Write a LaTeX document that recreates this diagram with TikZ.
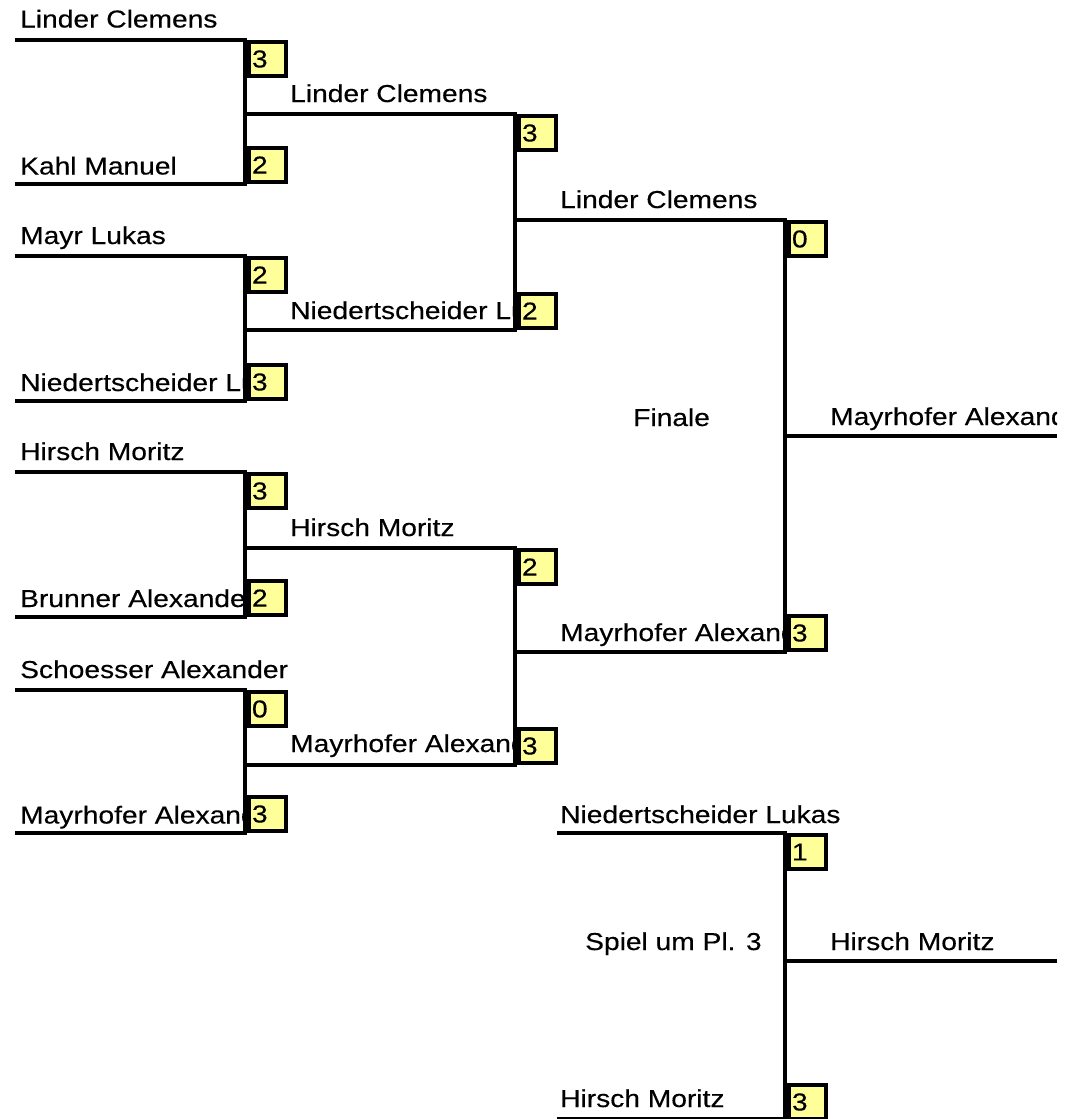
\documentclass[tikz,border=0pt]{standalone}
\usepackage{fontspec}
\setmainfont[FakeStretch=1.15,FakeBold=0.3]{Liberation Sans}
\definecolor{scorefill}{HTML}{FFFF99}
\tikzset{
  bline/.style={line width=4.5pt},
  vline/.style={line width=4.5pt, line cap=rect},
  pname/.style={anchor=base west, inner sep=0pt, font=\fontsize{24.5}{29}\selectfont},
  score/.style={draw, line width=4pt, fill=scorefill, inner xsep=3pt, inner ysep=0pt,
    text width=31pt, align=left, minimum height=34pt, font=\fontsize{24.5}{29}\selectfont},
  sctop/.style={score, anchor=north west},
  scbot/.style={score, anchor=south west},
}
% id, x0, x1, y, textx, baseline offset, clip x, text
\newcommand{\brentry}[8]{%
  \coordinate (#1-l) at (#2,#4);
  \coordinate (#1-r) at (#3,#4);
  \begin{scope}
    \clip (#2,#4-48) rectangle (#7,#4);
    \node[pname] (#1-t) at (#5,#4-#6) {#8};
  \end{scope}
  \draw[bline] (#1-l) -- (#1-r);
}
\begin{document}
\begin{tikzpicture}[x=1pt,y=-1pt]
\clip (0,0) rectangle (1072,1119);
\fill[white] (0,0) rectangle (1072,1119);
% Round 1
\brentry{a1}{15}{247}{40}{20}{12.5}{247}{Linder Clemens}
\brentry{a2}{15}{247}{184}{20}{9.5}{247}{Kahl Manuel}
\brentry{a3}{15}{247}{256}{20}{12}{247}{Mayr Lukas}
\brentry{a4}{15}{247}{401}{20}{10}{247}{Niedertscheider Lukas}
\brentry{a5}{15}{247}{472}{20}{12}{247}{Hirsch Moritz}
\brentry{a6}{15}{247}{617}{20}{10}{247}{Brunner Alexander}
\brentry{a7}{15}{247}{690}{20}{12}{400}{Schoesser Alexander}
\brentry{a8}{15}{247}{833}{20}{9.5}{247}{Mayrhofer Alexander}
% Round 2
\brentry{b1}{247}{517}{114}{290}{12}{517}{Linder Clemens}
\brentry{b2}{247}{517}{330}{290}{11}{517}{Niedertscheider Lukas}
\brentry{b3}{247}{517}{548}{290}{12}{517}{Hirsch Moritz}
\brentry{b4}{247}{517}{765}{290}{13}{517}{Mayrhofer Alexander}
% Round 3
\brentry{c1}{517}{787}{220}{560}{12}{787}{Linder Clemens}
\brentry{c2}{517}{787}{652}{560}{11}{787}{Mayrhofer Alexander}
% Winner
\brentry{d1}{787}{1057}{436}{830}{11}{1057}{Mayrhofer Alexander}
% Third place
\brentry{e1}{557}{787}{833}{560}{10}{1000}{Niedertscheider Lukas}
\brentry{e2}{557}{787}{1119}{560}{12}{787}{Hirsch Moritz}
\brentry{f1}{787}{1057}{961}{830}{11}{1057}{Hirsch Moritz}
% Vertical connectors
\draw[vline] ([xshift=-2.25pt]a1-r) -- ([xshift=-2.25pt]a2-r);
\draw[vline] ([xshift=-2.25pt]a3-r) -- ([xshift=-2.25pt]a4-r);
\draw[vline] ([xshift=-2.25pt]a5-r) -- ([xshift=-2.25pt]a6-r);
\draw[vline] ([xshift=-2.25pt]a7-r) -- ([xshift=-2.25pt]a8-r);
\draw[vline] ([xshift=-2.25pt]b1-r) -- ([xshift=-2.25pt]b2-r);
\draw[vline] ([xshift=-2.25pt]b3-r) -- ([xshift=-2.25pt]b4-r);
\draw[vline] ([xshift=-2.25pt]c1-r) -- ([xshift=-2.25pt]c2-r);
\draw[vline] ([xshift=-2.25pt]e1-r) -- ([xshift=-2.25pt]e2-r);
% Scores
\node[sctop] (a1-s) at (a1-r) {3};
\node[scbot] (a2-s) at (a2-r) {2};
\node[sctop] (a3-s) at (a3-r) {2};
\node[scbot] (a4-s) at (a4-r) {3};
\node[sctop] (a5-s) at (a5-r) {3};
\node[scbot] (a6-s) at (a6-r) {2};
\node[sctop] (a7-s) at (a7-r) {0};
\node[scbot] (a8-s) at (a8-r) {3};
\node[sctop] (b1-s) at (b1-r) {3};
\node[scbot] (b2-s) at (b2-r) {2};
\node[sctop] (b3-s) at (b3-r) {2};
\node[scbot] (b4-s) at (b4-r) {3};
\node[sctop] (c1-s) at (c1-r) {0};
\node[scbot] (c2-s) at (c2-r) {3};
\node[sctop] (e1-s) at (e1-r) {1};
\node[scbot] (e2-s) at ([yshift=-2pt]e2-r) {3};
% Labels
\node[pname] (finale) at (633,426) {Finale};
\node[pname] (platz3) at (585,950) {Spiel um Pl. 3};
\end{tikzpicture}
\end{document}
